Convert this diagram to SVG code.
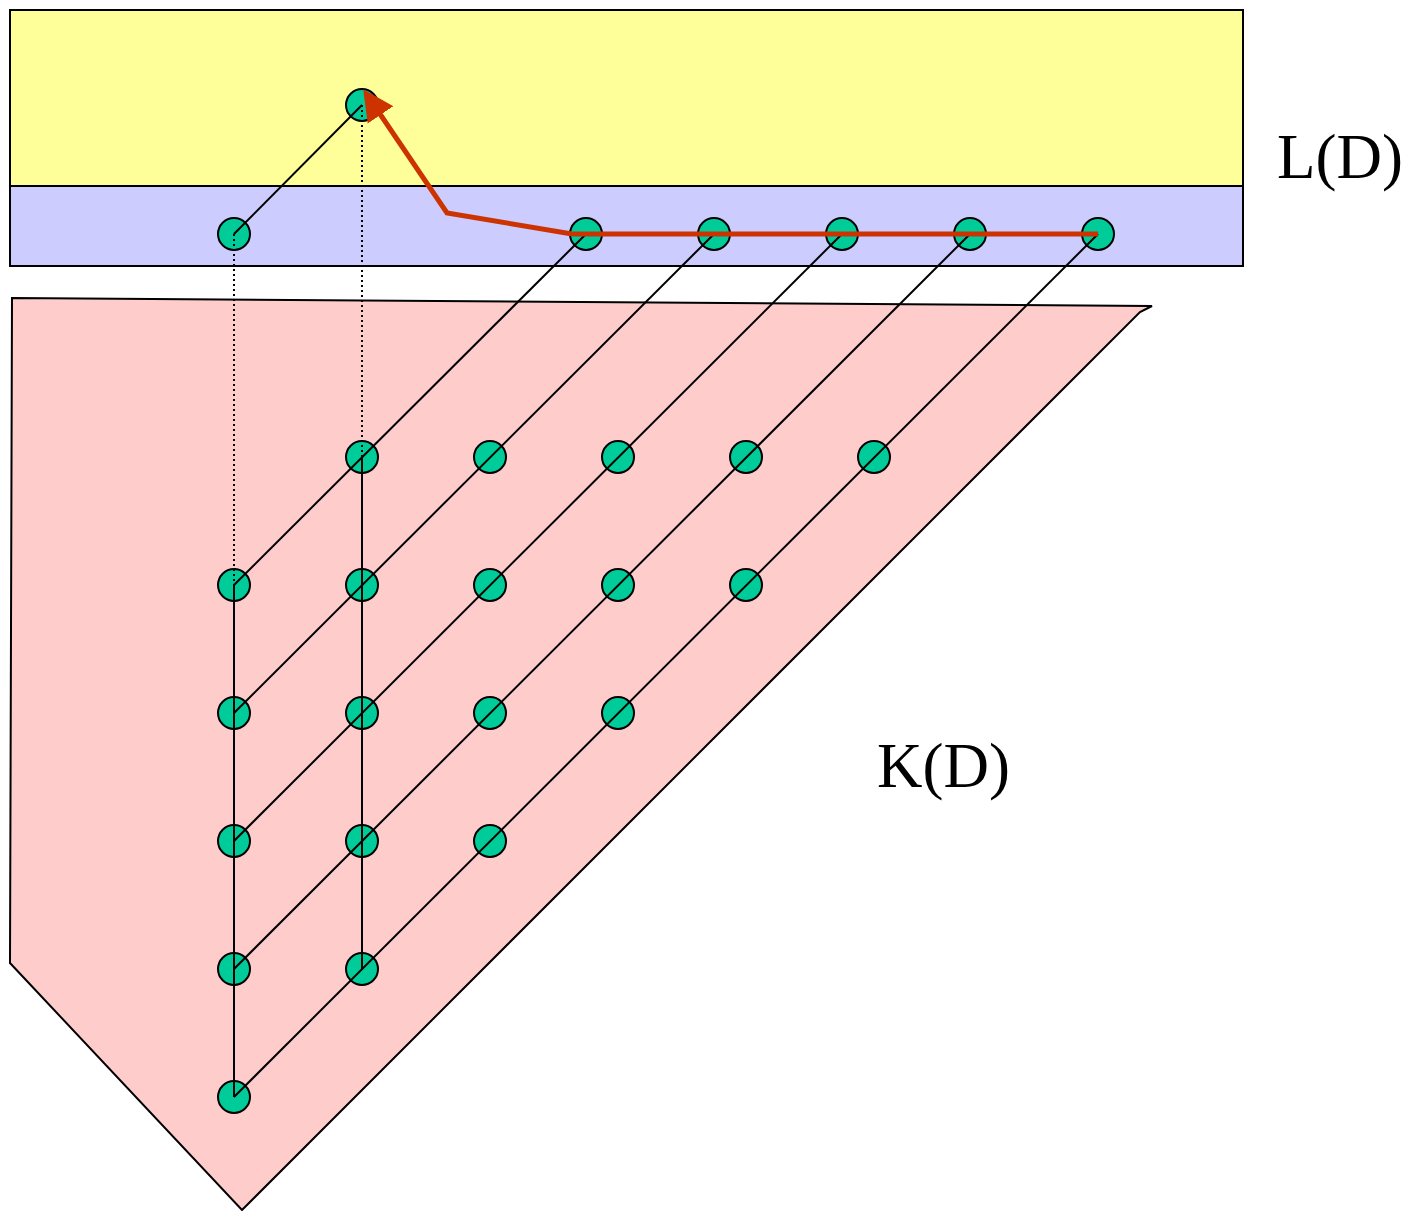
<svg xmlns="http://www.w3.org/2000/svg" width="1408" height="1211" viewBox="0 0 1408 1211">
<style>
.node{fill:#00CC99;stroke:#000;stroke-width:2}
.ln{stroke:#000;stroke-width:2;fill:none}
.dot{stroke:#000;stroke-width:2;stroke-dasharray:2 3;fill:none}
.lbl{font-family:"Liberation Serif","Times New Roman",serif;font-size:63px;fill:#000}
</style>
<defs>
<marker id="ah" markerUnits="userSpaceOnUse" markerWidth="32" markerHeight="32" viewBox="0 0 32 32" refX="1" refY="16" orient="auto">
<path d="M0,0.5 L31,16 L0,31.5 Z" fill="#CC3300"/>
</marker>
</defs>
<g id="regionL">
<rect x="10" y="10" width="1233" height="176" fill="#FFFF99" stroke="#000" stroke-width="2"/>
<rect x="10" y="186" width="1233" height="80" fill="#CCCCFF" stroke="#000" stroke-width="2"/>
</g>
<g id="regionK">
<polygon points="12,298 1152,306 1140,312 242,1210 10,963" fill="#FFCCCC" stroke="#000" stroke-width="2"/>
</g>
<g id="nodes">
<circle id="n-top" class="node" cx="362" cy="105" r="16"/>
<circle id="n-l0" class="node" cx="234" cy="234" r="16"/>
<circle id="n-l1" class="node" cx="586" cy="234" r="16"/>
<circle id="n-l2" class="node" cx="714" cy="234" r="16"/>
<circle id="n-l3" class="node" cx="842" cy="234" r="16"/>
<circle id="n-l4" class="node" cx="970" cy="234" r="16"/>
<circle id="n-l5" class="node" cx="1098" cy="234" r="16"/>
<circle id="n-r1c2" class="node" cx="362" cy="457" r="16"/>
<circle id="n-r1c3" class="node" cx="490" cy="457" r="16"/>
<circle id="n-r1c4" class="node" cx="618" cy="457" r="16"/>
<circle id="n-r1c5" class="node" cx="746" cy="457" r="16"/>
<circle id="n-r1c6" class="node" cx="874" cy="457" r="16"/>
<circle id="n-r2c1" class="node" cx="234" cy="585" r="16"/>
<circle id="n-r2c2" class="node" cx="362" cy="585" r="16"/>
<circle id="n-r2c3" class="node" cx="490" cy="585" r="16"/>
<circle id="n-r2c4" class="node" cx="618" cy="585" r="16"/>
<circle id="n-r2c5" class="node" cx="746" cy="585" r="16"/>
<circle id="n-r3c1" class="node" cx="234" cy="713" r="16"/>
<circle id="n-r3c2" class="node" cx="362" cy="713" r="16"/>
<circle id="n-r3c3" class="node" cx="490" cy="713" r="16"/>
<circle id="n-r3c4" class="node" cx="618" cy="713" r="16"/>
<circle id="n-r4c1" class="node" cx="234" cy="841" r="16"/>
<circle id="n-r4c2" class="node" cx="362" cy="841" r="16"/>
<circle id="n-r4c3" class="node" cx="490" cy="841" r="16"/>
<circle id="n-r5c1" class="node" cx="234" cy="969" r="16"/>
<circle id="n-r5c2" class="node" cx="362" cy="969" r="16"/>
<circle id="n-r6c1" class="node" cx="234" cy="1097" r="16"/>
</g>
<g id="connectors">
<line class="ln" x1="234" y1="234" x2="362" y2="105"/>
<line class="ln" x1="234" y1="585" x2="586" y2="234"/>
<line class="ln" x1="234" y1="713" x2="714" y2="234"/>
<line class="ln" x1="234" y1="841" x2="842" y2="234"/>
<line class="ln" x1="234" y1="969" x2="970" y2="234"/>
<line class="ln" x1="234" y1="1097" x2="1098" y2="234"/>
<line class="ln" x1="234" y1="585" x2="234" y2="1097"/>
<line class="ln" x1="362" y1="457" x2="362" y2="969"/>
<line class="dot" x1="234" y1="234" x2="234" y2="585"/>
<line class="dot" x1="362" y1="105" x2="362" y2="457"/>
<polyline points="1098,234 572,234 447,213 380,114" fill="none" stroke="#CC3300" stroke-width="5" marker-end="url(#ah)"/>
</g>
<g id="labels">
<text class="lbl" x="1277" y="178">L(D)</text>
<text class="lbl" x="877" y="787">K(D)</text>
</g>
</svg>
